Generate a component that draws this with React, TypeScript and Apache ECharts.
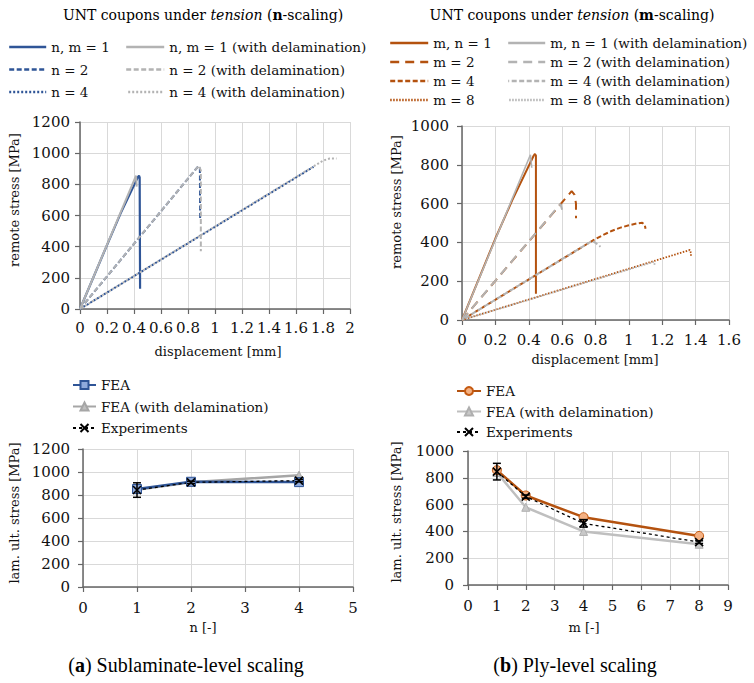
import React, { useEffect, useRef } from 'react';
import * as echarts from 'echarts';

const BLUE = '#2F5597';
const GRAY = '#B3B3B3';
const BROWN = '#B4520F';
const FONT = 'DejaVu Serif';

// ---- (a) top: n-scaling curves [displacement mm, remote stress MPa]
const nm1 = [[0, 0], [0.2, 410], [0.3, 612], [0.43, 848], [0.437, 856], [0.442, 845], [0.445, 130]];
const nm1Del = [[0, 0], [0.415, 855], [0.42, 785]];
const n2 = [[0, 0], [0.875, 915], [0.888, 905], [0.89, 570]];
const n2Del = [[0, 0], [0.88, 920], [0.895, 890], [0.895, 370]];
const n4 = [[0, 0], [1.73, 912]];
const n4Del = [[0, 0], [1.72, 910], [1.8, 952], [1.85, 966], [1.9, 965]];

// ---- (b) top: m-scaling curves
const mn1 = [[0, 0], [0.2, 420], [0.3, 615], [0.43, 848], [0.437, 856], [0.443, 848], [0.443, 135]];
const mn1Del = [[0, 0], [0.41, 852], [0.418, 785]];
const m2 = [[0, 0], [0.657, 664], [0.675, 645], [0.683, 600], [0.683, 525]];
const m2Del = [[0, 0], [0.59, 598], [0.6, 568]];
const m4 = [[0, 0], [0.79, 413], [0.85, 440], [0.9, 460], [0.95, 476], [1.0, 488], [1.05, 498], [1.08, 501], [1.095, 490], [1.1, 470]];
const m4Del = [[0, 0], [0.78, 408], [0.8, 398], [0.83, 378]];
const m8 = [[0, 0], [1.366, 361], [1.372, 345], [1.372, 325]];
const m8Del = [[0, 0], [1.15, 300], [1.155, 285]];

// ---- (a) bottom: laminate ultimate stress vs n
const nVals = [1, 2, 4];
const feaN = [852, 915, 912];
const feaDelN = [845, 910, 972];
const expN = [843, 910, 925];
const expErrN = [63, 10, 10];

// ---- (b) bottom: laminate ultimate stress vs m
const mVals = [1, 2, 4, 8];
const feaM = [857, 668, 506, 366];
const feaDelM = [840, 580, 400, 304];
const expM = [846, 660, 460, 320];
const expErrM = [62, 12, 28, 10];

const XSYM = 'path://M0,0L10,10M10,0L0,10';

function axisBase(min: number, max: number, interval: number, margin: number) {
  return {
    type: 'value',
    min,
    max,
    interval,
    axisLine: { show: true, lineStyle: { color: '#666', width: 1.5 } },
    axisTick: { show: true, length: 5, lineStyle: { color: '#666', width: 1.2 } },
    splitLine: { show: true, lineStyle: { color: '#D9D9D9', width: 1 } },
    axisLabel: {
      color: '#111',
      fontFamily: FONT,
      fontSize: 15,
      margin,
      formatter: (v: number) => String(Math.round(v * 100) / 100),
    },
  };
}

function errSeries(idx: number, xs: number[], ys: number[], es: number[]) {
  return {
    type: 'custom',
    xAxisIndex: idx,
    yAxisIndex: idx,
    z: 6,
    data: xs.map((x, i) => [x, ys[i] - es[i], ys[i] + es[i]]),
    encode: { x: 0, y: [1, 2] },
    renderItem: (params: any, api: any) => {
      const x = api.value(0);
      const p1 = api.coord([x, api.value(1)]);
      const p2 = api.coord([x, api.value(2)]);
      const w = 4;
      const st = { stroke: '#000', lineWidth: 1.5 };
      return {
        type: 'group',
        children: [
          { type: 'line', shape: { x1: p1[0], y1: p1[1], x2: p2[0], y2: p2[1] }, style: st },
          { type: 'line', shape: { x1: p1[0] - w, y1: p1[1], x2: p1[0] + w, y2: p1[1] }, style: st },
          { type: 'line', shape: { x1: p2[0] - w, y1: p2[1], x2: p2[0] + w, y2: p2[1] }, style: st },
        ],
      };
    },
  };
}

function curve(name: string, data: number[][], idx: number, color: string, width: number, type: any, offset = 0) {
  return {
    name,
    type: 'line',
    xAxisIndex: idx,
    yAxisIndex: idx,
    data,
    symbol: 'none',
    lineStyle: { color, width, type, dashOffset: offset },
    itemStyle: { color },
  };
}

const legendText = { fontFamily: FONT, fontSize: 13.5, color: '#111', lineHeight: 14 };

function legend(left: number, top: number, data: string[], itemWidth: number, itemGap: number, extra: any = {}) {
  return {
    orient: 'vertical',
    left,
    top,
    data,
    itemWidth,
    itemHeight: 14,
    itemGap,
    padding: 0,
    selectedMode: false,
    textStyle: legendText,
    ...extra,
  };
}

const noSym = { itemStyle: { opacity: 0 }, lineStyle: { width: 2.4 } };

function vText(x: number, y: number, text: string) {
  return {
    type: 'text',
    x,
    y,
    rotation: Math.PI / 2,
    style: { text, fontFamily: FONT, fontSize: 13, fill: '#111', textAlign: 'center', textVerticalAlign: 'middle' },
  };
}
function hText(x: number, y: number, text: string) {
  return {
    type: 'text',
    x,
    y,
    style: { text, fontFamily: FONT, fontSize: 13, fill: '#111', textAlign: 'center', textVerticalAlign: 'middle' },
  };
}

function title(x: number, y: number, letter: string) {
  return {
    type: 'text',
    x,
    y,
    style: {
      text: `{a|UNT coupons under }{i|tension}{a| (}{b|${letter}}{a|-scaling)}`,
      textAlign: 'center',
      textVerticalAlign: 'middle',
      rich: {
        a: { fontFamily: FONT, fontSize: 14, color: '#111' },
        i: { fontFamily: FONT, fontSize: 14, fontStyle: 'italic', color: '#111' },
        b: { fontFamily: FONT, fontSize: 14, fontWeight: 'bold', color: '#111' },
      },
    },
  };
}

function caption(x: number, y: number, letter: string, rest: string) {
  return {
    type: 'text',
    x,
    y,
    style: {
      text: `{a|(}{b|${letter}}{a|) ${rest}}`,
      textAlign: 'center',
      textVerticalAlign: 'middle',
      rich: {
        a: { fontFamily: 'Liberation Serif', fontSize: 20, color: '#111' },
        b: { fontFamily: 'Liberation Serif', fontSize: 20, fontWeight: 'bold', color: '#111' },
      },
    },
  };
}

export default function App() {
  const ref = useRef<HTMLDivElement>(null);
  useEffect(() => {
    if (!ref.current) return;
    const chart = echarts.init(ref.current, undefined, { renderer: 'svg' });
    const option: any = {
      animation: false,
      backgroundColor: '#fff',
      textStyle: { fontFamily: FONT },
      grid: [
        { left: 80, top: 122, width: 270, height: 187 },
        { left: 462, top: 126, width: 267, height: 194 },
        { left: 83, top: 449, width: 270, height: 138 },
        { left: 468, top: 451, width: 260, height: 134 },
      ],
      xAxis: [
        { ...axisBase(0, 2, 0.2, 11), gridIndex: 0 },
        { ...axisBase(0, 1.6, 0.2, 12), gridIndex: 1 },
        { ...axisBase(0, 5, 1, 13), gridIndex: 2 },
        { ...axisBase(0, 9, 1, 13), gridIndex: 3 },
      ],
      yAxis: [
        { ...axisBase(0, 1200, 200, 10), gridIndex: 0 },
        { ...axisBase(0, 1000, 200, 13), gridIndex: 1 },
        { ...axisBase(0, 1200, 200, 13), gridIndex: 2 },
        { ...axisBase(0, 1000, 200, 14), gridIndex: 3 },
      ],
      legend: [
        legend(8, 40, ['n, m = 1', 'n = 2', 'n = 4'], 37, 8.5, noSym),
        legend(125, 40, ['n, m = 1 (with delamination)', 'n = 2 (with delamination)', 'n = 4 (with delamination)'], 38, 8.5, noSym),
        legend(389, 36, ['m, n = 1', 'm = 2', 'm = 4', 'm = 8'], 38, 5, noSym),
        legend(507, 36, ['m, n = 1 (with delamination)', 'm = 2 (with delamination)', 'm = 4 (with delamination)', 'm = 8 (with delamination)'], 37, 5, noSym),
        legend(72, 378, ['FEA', 'FEA (with delamination)', 'Experiments'], 23, 7.5, { itemHeight: 10 }),
        legend(456, 384, ['FEA [b]', 'FEA (with delamination) [b]', 'Experiments [b]'], 24, 6.5, {
          itemHeight: 10,
          formatter: (n: string) => n.replace(' [b]', ''),
        }),
      ],
      graphic: [
        title(203, 15, 'n'),
        title(572, 15, 'm'),
        hText(218, 351, 'displacement [mm]'),
        hText(595, 359, 'displacement [mm]'),
        hText(203, 627, 'n [-]'),
        hText(584, 627, 'm [-]'),
        vText(14, 200, 'remote stress [MPa]'),
        vText(396, 202, 'remote stress [MPa]'),
        vText(14, 513, 'lam. ult. stress [MPa]'),
        vText(396, 512, 'lam. ult. stress [MPa]'),
        caption(186, 665, 'a', 'Sublaminate-level scaling'),
        caption(575, 665, 'b', 'Ply-level scaling'),
      ],
      series: [
        // (a) top
        curve('n, m = 1', nm1, 0, BLUE, 2.2, 'solid'),
        curve('n = 2', n2, 0, BLUE, 2, [5, 2.5]),
        curve('n = 4', n4, 0, BLUE, 2, [2, 2]),
        curve('n, m = 1 (with delamination)', nm1Del, 0, GRAY, 2, 'solid'),
        curve('n = 2 (with delamination)', n2Del, 0, GRAY, 2, [5, 2.5]),
        curve('n = 4 (with delamination)', n4Del, 0, GRAY, 2, [2, 2], 2),
        // (b) top
        curve('m, n = 1', mn1, 1, BROWN, 2, 'solid'),
        curve('m = 2', m2, 1, BROWN, 2, [9, 6]),
        curve('m = 4', m4, 1, BROWN, 2, [5, 2.5]),
        curve('m = 8', m8, 1, BROWN, 1.8, [1.5, 1.5]),
        curve('m, n = 1 (with delamination)', mn1Del, 1, GRAY, 1.6, 'solid'),
        curve('m = 2 (with delamination)', m2Del, 1, GRAY, 2, [9, 6]),
        curve('m = 4 (with delamination)', m4Del, 1, GRAY, 2, [5, 2.5], 3.75),
        curve('m = 8 (with delamination)', m8Del, 1, GRAY, 1.8, [1.5, 1.5], 1.5),
        // (a) bottom
        {
          name: 'FEA (with delamination)', type: 'line', xAxisIndex: 2, yAxisIndex: 2,
          data: nVals.map((x, i) => [x, feaDelN[i]]),
          symbol: 'triangle', symbolSize: 8,
          lineStyle: { color: '#A6A6A6', width: 2.5 },
          itemStyle: { color: '#BFBFBF', borderColor: '#A6A6A6', borderWidth: 1 },
        },
        {
          name: 'FEA', type: 'line', xAxisIndex: 2, yAxisIndex: 2,
          data: nVals.map((x, i) => [x, feaN[i]]),
          symbol: 'rect', symbolSize: 9,
          lineStyle: { color: BLUE, width: 2.5 },
          itemStyle: { color: '#8FAADC', borderColor: BLUE, borderWidth: 1 },
        },
        {
          name: 'Experiments', type: 'line', xAxisIndex: 2, yAxisIndex: 2,
          data: nVals.map((x, i) => [x, expN[i]]),
          symbol: XSYM, symbolSize: 8,
          lineStyle: { color: '#000', width: 1.3, type: [3, 3] },
          itemStyle: { color: '#000', borderColor: '#000', borderWidth: 1.6 },
        },
        errSeries(2, nVals, expN, expErrN),
        // (b) bottom
        {
          name: 'FEA (with delamination) [b]', type: 'line', xAxisIndex: 3, yAxisIndex: 3,
          data: mVals.map((x, i) => [x, feaDelM[i]]),
          symbol: 'triangle', symbolSize: 8,
          lineStyle: { color: '#BFBFBF', width: 2.5 },
          itemStyle: { color: '#C8C8C8', borderColor: '#AFAFAF', borderWidth: 1 },
        },
        {
          name: 'FEA [b]', type: 'line', xAxisIndex: 3, yAxisIndex: 3,
          data: mVals.map((x, i) => [x, feaM[i]]),
          symbol: 'circle', symbolSize: 9,
          lineStyle: { color: BROWN, width: 2.5 },
          itemStyle: { color: '#F4B183', borderColor: '#C55A11', borderWidth: 1 },
        },
        {
          name: 'Experiments [b]', type: 'line', xAxisIndex: 3, yAxisIndex: 3,
          data: mVals.map((x, i) => [x, expM[i]]),
          symbol: XSYM, symbolSize: 8,
          lineStyle: { color: '#000', width: 1.3, type: [3, 3] },
          itemStyle: { color: '#000', borderColor: '#000', borderWidth: 1.6 },
        },
        errSeries(3, mVals, expM, expErrM),
      ],
    };
    chart.setOption(option);
    return () => chart.dispose();
  }, []);
  return <div ref={ref} style={{ position: 'absolute', left: 0, top: 0, width: 754, height: 683 }} />;
}
